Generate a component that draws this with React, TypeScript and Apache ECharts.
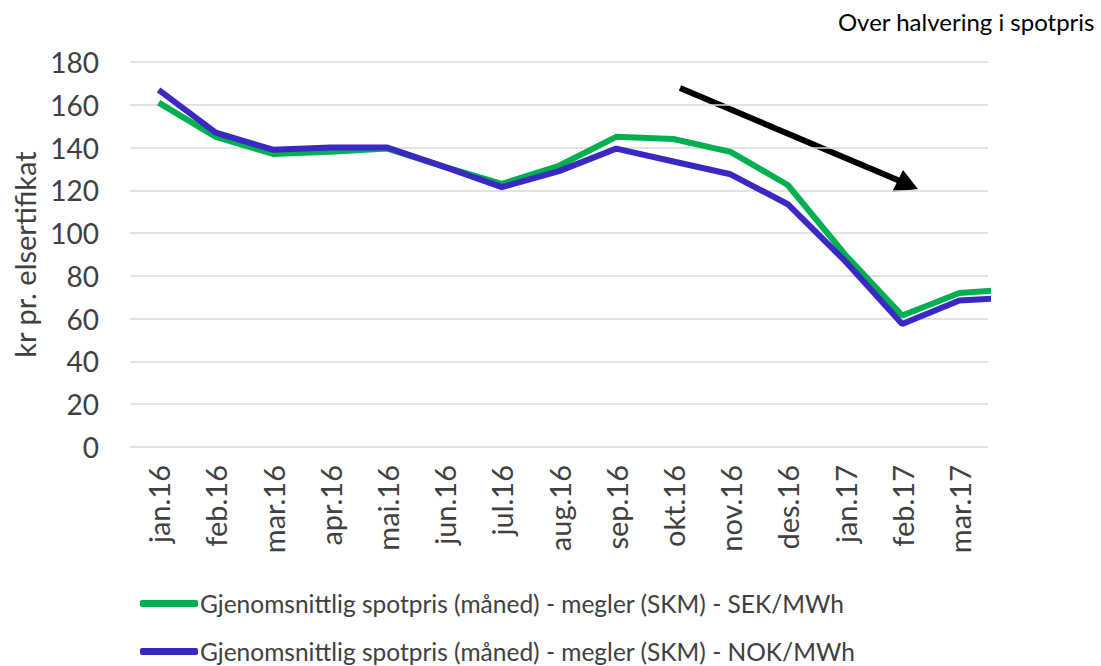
import React, { useEffect, useRef } from "react";
import * as echarts from "echarts";

const categories = [
  "jan.16", "feb.16", "mar.16", "apr.16", "mai.16", "jun.16", "jul.16", "aug.16",
  "sep.16", "okt.16", "nov.16", "des.16", "jan.17", "feb.17", "mar.17", "apr.17",
];
const sekValues = [161, 145, 137, 138, 139.5, 131, 123, 131.5, 145, 144, 138, 122.5, 90, 61.5, 72, 74];
const nokValues = [167, 147, 139, 140, 140, 131, 121.5, 129, 139.5, 133.5, 127.5, 113.5, 87, 57.5, 68.5, 70];
const sekName = "Gjenomsnittlig spotpris (måned) - megler (SKM) - SEK/MWh";
const nokName = "Gjenomsnittlig spotpris (måned) - megler (SKM) - NOK/MWh";
const titleText = "Over halvering i spotpris";
const yAxisName = "kr pr. elsertifikat";

const FONT = "Lato";

export default function App() {
  const ref = useRef<HTMLDivElement>(null);
  useEffect(() => {
    if (!ref.current) return;
    const chart = echarts.init(ref.current, undefined, { renderer: "svg" });
    chart.setOption({
      animation: false,
      backgroundColor: "#ffffff",
      textStyle: { fontFamily: FONT },
      grid: { left: 130, right: 113, top: 62, bottom: 219, containLabel: false },
      legend: [
        {
          orient: "horizontal",
          left: 135,
          top: 586,
          itemWidth: 58,
          itemHeight: 7,
          icon: "roundRect",
          textStyle: { fontFamily: FONT, fontSize: 24.5, color: "#404040", padding: [0, 0, 0, -3] },
          data: [sekName],
        },
        {
          orient: "horizontal",
          left: 135,
          top: 634,
          itemWidth: 58,
          itemHeight: 7,
          icon: "roundRect",
          textStyle: { fontFamily: FONT, fontSize: 24.5, color: "#404040", padding: [0, 0, 0, -3] },
          data: [nokName],
        },
      ],
      xAxis: {
        type: "category",
        data: categories,
        max: 14,
        boundaryGap: true,
        axisLine: { show: false },
        axisTick: { show: false },
        axisLabel: {
          rotate: 90,
          interval: 0,
          margin: 18,
          fontFamily: FONT,
          fontSize: 29,
          color: "#404040",
        },
        splitLine: { show: false },
      },
      yAxis: {
        type: "value",
        min: 0,
        max: 180,
        interval: 20,
        name: yAxisName,
        nameLocation: "middle",
        nameGap: 90,
        nameTextStyle: { fontFamily: FONT, fontSize: 29, color: "#404040" },
        axisLine: { show: false },
        axisTick: { show: false },
        axisLabel: { fontFamily: FONT, fontSize: 28, color: "#404040", margin: 31 },
        splitLine: { lineStyle: { color: "#D9D9D9", width: 1.5 } },
      },
      series: [
        {
          name: sekName,
          type: "line",
          data: sekValues,
          symbol: "none",
          showSymbol: false,
          clip: true,
          color: "#00B050",
          lineStyle: { width: 6, color: "#00B050" },
        },
        {
          name: nokName,
          type: "line",
          data: nokValues,
          symbol: "none",
          showSymbol: false,
          clip: true,
          color: "#3A28C2",
          lineStyle: { width: 6, color: "#3A28C2" },
        },
      ],
      graphic: [
        {
          type: "text",
          right: 6,
          top: 9,
          style: { text: titleText, fontFamily: FONT, fontSize: 24, fill: "#000000" },
        },
        {
          type: "line",
          shape: { x1: 680, y1: 88, x2: 900, y2: 181 },
          style: { stroke: "#000000", lineWidth: 6 },
        },
        {
          type: "polygon",
          shape: { points: [[918, 189], [892, 192], [903, 170]] },
          style: { fill: "#000000" },
        },
      ],
    });
    return () => chart.dispose();
  }, []);
  return <div ref={ref} style={{ width: 1101, height: 666, position: "absolute", left: 0, top: 0 }} />;
}
